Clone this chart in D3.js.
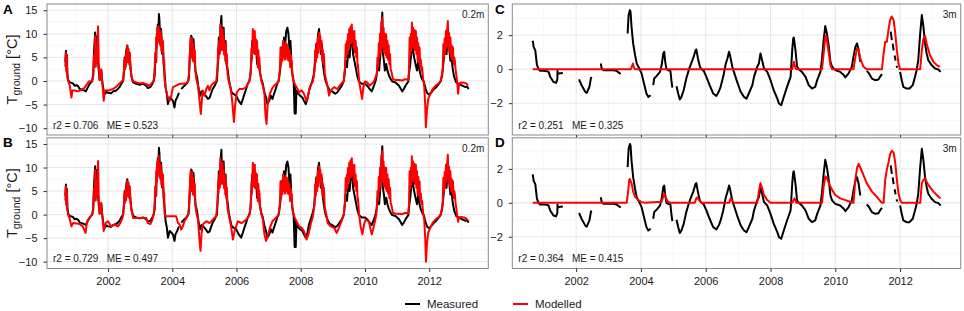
<!DOCTYPE html>
<html><head><meta charset="utf-8">
<script src="https://cdn.jsdelivr.net/npm/d3@7"></script>
<style>
body{margin:0;background:#fff;}
svg{font-family:"Liberation Sans",Arial,Helvetica,sans-serif;display:block;}
</style>
</head><body>
<svg id="chart" width="964" height="311"></svg>
<script>
// ---------------- data ----------------
const xTickYears = [2002, 2004, 2006, 2008, 2010, 2012];
const xMinorYears = [2001, 2003, 2005, 2007, 2009, 2011, 2013];
const yTicks02 = [-10, -5, 0, 5, 10, 15];
const yMinor02 = [-7.5, -2.5, 2.5, 7.5, 12.5];
const yTicks3 = [-2, 0, 2];
const yMinor3 = [-3, -1, 1, 3];
const panelLetters = ["A", "B", "C", "D"];
const depthLabels = ["0.2m", "0.2m", "3m", "3m"];
const statsLabels = ["r2 = 0.706   ME = 0.523", "r2 = 0.729   ME = 0.497", "r2 = 0.251   ME = 0.325", "r2 = 0.364   ME = 0.415"];
const legendLabels = ["Measured", "Modelled"];

// measured ground temperature at 0.2 m  [decimal year, °C]  (null = gap)
const measured02 = [
[2000.67,4.0],[2000.69,6.4],[2000.705,2.5],[2000.72,5.5],[2000.735,1.5],[2000.76,0.2],[2000.81,-0.3],[2000.91,-0.5],[2000.96,-1.0],[2001.02,-0.9],[2001.07,-1.1],[2001.12,-1.7],[2001.22,-1.9],[2001.31,-2.2],[2001.38,-1.2],[2001.43,-0.6],[2001.51,0],
[2001.54,1.5],[2001.57,7.0],[2001.6,10.3],[2001.62,4.3],[2001.64,5.0],[2001.66,9.5],[2001.69,4],[2001.72,1.5],[2001.74,0.2],[2001.79,2.2],[2001.82,-0.1],[2001.86,-2.0],[2001.9,-2.8],[2001.95,-2.3],[2002.0,-2.5],[2002.1,-2.6],[2002.16,-2.2],[2002.26,-2.0],[2002.36,-1.3],[2002.42,-0.5],[2002.47,0],
[2002.5,2.5],[2002.52,5.0],[2002.55,3.0],[2002.57,6.5],[2002.6,7.5],[2002.63,4.0],[2002.67,6.0],[2002.7,3.0],[2002.73,1.0],[2002.76,0.3],[2002.78,-0.3],[2002.88,-0.6],[2002.98,-0.8],[2003.09,-0.6],[2003.19,-1.0],[2003.24,-1.5],[2003.32,-1.3],[2003.38,-0.6],[2003.42,0],
[2003.45,1],[2003.48,5.7],[2003.5,4],[2003.52,10],[2003.54,8],[2003.55,12],[2003.57,10],[2003.585,14.2],[2003.6,13],[2003.62,9],[2003.63,7.8],[2003.65,11],[2003.66,10],[2003.68,6],[2003.69,5.7],[2003.71,7],[2003.74,2.9],[2003.77,0.8],[2003.79,-1.3],[2003.83,-2.7],[2003.865,-4.9],[2003.92,-3.5],[2003.97,-3.8],[2004.02,-4.2],[2004.07,-5.6],[2004.1,-4.2],[2004.15,-3.5],[2004.21,-2.5],[2004.23,null],[2004.28,-1.7],[2004.35,-1.2],[2004.44,-0.6],[2004.5,0],
[2004.52,1],[2004.56,7.1],[2004.59,9.6],[2004.61,9.2],[2004.63,6],[2004.64,5.0],[2004.66,8.9],[2004.69,5.7],[2004.72,2.2],[2004.77,0.8],[2004.8,-0.6],[2004.83,-2.0],[2004.87,-3.1],[2004.91,-2.2],[2004.95,-2.4],[2005.04,-3.1],[2005.11,-3.8],[2005.16,-3.6],[2005.21,-2.6],[2005.26,-1.7],[2005.32,-1.0],[2005.37,-0.3],
[2005.39,0],[2005.42,3.6],[2005.45,9.2],[2005.47,6],[2005.48,7.1],[2005.5,11],[2005.51,12],[2005.53,13.8],[2005.55,8.5],[2005.565,9.2],[2005.58,10.5],[2005.6,11.3],[2005.62,6],[2005.63,5.7],[2005.65,8.5],[2005.66,8.5],[2005.68,4],[2005.69,3.6],[2005.73,2.2],[2005.76,0.4],[2005.8,-1.0],[2005.845,-2.4],[2005.89,-2.7],[2005.99,-3.1],[2006.07,-4.2],[2006.145,-4.9],[2006.2,-3.8],[2006.25,-2.7],[2006.3,-1.7],[2006.35,-0.6],[2006.4,0],
[2006.43,1],[2006.46,4.3],[2006.49,8.5],[2006.51,7],[2006.52,6.4],[2006.55,9.6],[2006.58,5.7],[2006.61,7.8],[2006.64,3.6],[2006.67,5.7],[2006.72,2.2],[2006.77,0.4],[2006.82,-0.6],[2006.87,-2.4],[2006.92,-3.5],[2006.96,-4.9],[2007.02,-4.2],[2007.07,-3.1],[2007.12,-3.8],[2007.17,-2.7],[2007.22,-1.7],[2007.27,-0.6],[2007.31,0],
[2007.33,0.8],[2007.38,3.6],[2007.41,7.1],[2007.45,5.7],[2007.48,9.2],[2007.51,7.8],[2007.53,9],[2007.55,10.6],[2007.585,11.3],[2007.62,9.9],[2007.65,6.4],[2007.68,8.5],[2007.71,3.6],[2007.74,1.5],[2007.78,-0.1],[2007.81,-6.9],[2007.82,-1.3],[2007.845,-6.9],[2007.865,-2.0],[2007.92,-2.7],[2007.98,-3.1],[2008.05,-3.5],[2008.1,-4.2],[2008.155,-4.9],[2008.21,-3.8],[2008.26,-2.0],[2008.31,-1.0],[2008.36,0],
[2008.41,1.5],[2008.45,4.3],[2008.48,7.8],[2008.51,5.7],[2008.54,9.9],[2008.57,11],[2008.6,8.5],[2008.63,5.7],[2008.66,7.8],[2008.69,3.6],[2008.74,1.1],[2008.78,-0.1],[2008.83,-1.0],[2008.9,-2.0],[2008.98,-2.2],[2009.07,-2.7],[2009.14,-2.4],[2009.21,-1.7],[2009.28,-1.0],[2009.34,0],
[2009.36,1.1],[2009.4,4.3],[2009.44,2.9],[2009.48,6.4],[2009.52,5.0],[2009.565,8.5],[2009.6,9.6],[2009.63,5.7],[2009.67,4.3],[2009.71,2.9],[2009.76,1.1],[2009.81,-0.1],[2009.9,-0.6],[2010.0,-0.6],[2010.07,-1.0],[2010.145,-1.7],[2010.21,-2.2],[2010.28,-1.0],[2010.33,0],
[2010.36,1.1],[2010.4,3.6],[2010.44,2.2],[2010.48,5.7],[2010.51,10.6],[2010.54,14.5],[2010.56,5.7],[2010.59,4.3],[2010.62,2.2],[2010.66,3.6],[2010.7,2.2],[2010.75,1.1],[2010.8,0.4],[2010.85,-0.1],[2010.95,-0.3],[2011.06,-1.0],[2011.16,-2.2],[2011.21,-1.7],[2011.26,-1.0],[2011.35,-0.1],
[2011.37,1.5],[2011.41,3.6],[2011.44,5.7],[2011.47,7.8],[2011.5,6.4],[2011.53,5.0],[2011.575,3.6],[2011.62,2.2],[2011.66,4.3],[2011.7,2.2],[2011.74,1.1],[2011.78,0.4],[2011.83,-0.1],[2011.89,-1.7],[2011.94,-2.6],[2012.0,-2.9],[2012.07,-2.4],[2012.15,-1.7],[2012.22,-1.3],[2012.3,-0.6],[2012.36,0],
[2012.4,1.1],[2012.45,4.3],[2012.48,6.4],[2012.51,7.8],[2012.54,5.7],[2012.57,9.2],[2012.6,10.3],[2012.63,6.4],[2012.66,4.3],[2012.69,5.0],[2012.74,2.2],[2012.78,0.8],[2012.84,-0.3],[2012.92,-0.6],[2013.03,-1.0],[2013.13,-1.3],[2013.18,-1.2],[2013.23,-1.7]
];

// modelled ground temperature at 0.2 m, panel A
const modelledA = [
[2000.67,3.0],[2000.685,6.0],[2000.7,2.0],[2000.715,5.5],[2000.73,1.0],[2000.76,-0.1],[2000.81,-1.0],[2000.86,-3.5],[2000.89,-2.0],[2000.96,-2.0],[2001.07,-2.2],[2001.17,-1.9],[2001.26,-1.5],[2001.33,-0.8],[2001.4,-0.1],[2001.5,0],
[2001.54,1.0],[2001.56,5.5],[2001.58,3],[2001.6,9.5],[2001.62,3.0],[2001.64,7],[2001.66,4],[2001.69,11.6],[2001.71,4.0],[2001.74,0.2],[2001.79,2.5],[2001.82,-0.1],[2001.865,-4.2],[2001.9,-2.0],[2001.95,-2.0],[2002.05,-1.9],[2002.16,-1.7],[2002.26,-1.2],[2002.36,-0.5],[2002.42,-0.1],[2002.47,0.1],
[2002.49,1.5],[2002.51,4.5],[2002.53,2.5],[2002.55,5.5],[2002.57,3.5],[2002.6,7.5],[2002.62,4],[2002.64,6.8],[2002.66,3.5],[2002.68,5.5],[2002.7,2.5],[2002.73,1.0],[2002.76,0],[2002.88,-0.3],[2002.98,-0.5],[2003.09,-0.4],[2003.19,-0.7],[2003.3,-1.0],[2003.38,-0.3],[2003.42,0],
[2003.45,2.2],[2003.47,6],[2003.49,4],[2003.5,9.2],[2003.52,7],[2003.53,11.3],[2003.55,8.5],[2003.575,11.6],[2003.59,8.5],[2003.61,10.8],[2003.63,7.5],[2003.64,10.6],[2003.66,6.4],[2003.68,9],[2003.7,6],[2003.71,8.5],[2003.73,3.6],[2003.75,4.5],[2003.76,0.4],[2003.81,-2.0],[2003.865,-3.5],[2003.92,-4.2],[2003.97,-3.1],[2004.02,-1.3],[2004.12,-1.0],[2004.23,-0.6],[2004.33,-0.6],[2004.44,-0.5],[2004.49,-0.1],
[2004.52,1.5],[2004.55,6],[2004.57,9.2],[2004.59,5],[2004.6,8],[2004.62,8.9],[2004.64,4.3],[2004.66,7.8],[2004.68,4],[2004.7,6.5],[2004.72,2.2],[2004.75,0.4],[2004.8,-1.0],[2004.85,-4.2],[2004.89,-7.0],[2004.92,-4.2],[2004.95,-2.0],[2005.0,-3.1],[2005.06,-1.7],[2005.11,-1.0],[2005.16,-2.0],[2005.21,-1.0],[2005.26,-0.6],[2005.32,-0.3],[2005.37,-0.1],
[2005.41,2.9],[2005.43,7],[2005.44,4.5],[2005.46,8.5],[2005.48,5.7],[2005.5,12],[2005.52,8],[2005.53,9.6],[2005.55,6.5],[2005.565,11.0],[2005.58,7],[2005.6,9.5],[2005.62,5.5],[2005.63,8.5],[2005.65,4.3],[2005.67,7.5],[2005.69,3.5],[2005.7,5.7],[2005.72,1.5],[2005.76,-0.1],[2005.81,-1.3],[2005.865,-4.2],[2005.92,-8.7],[2005.96,-4.9],[2006.01,-2.4],[2006.09,-1.7],[2006.2,-1.7],[2006.3,-1.3],[2006.35,-0.6],[2006.4,-0.1],
[2006.45,2.2],[2006.47,7],[2006.48,4.5],[2006.5,9],[2006.51,11.0],[2006.53,6],[2006.54,9.1],[2006.56,7],[2006.57,10.6],[2006.59,5.7],[2006.61,8.8],[2006.63,5.5],[2006.64,8.5],[2006.66,2.9],[2006.68,6.5],[2006.7,3],[2006.71,5.0],[2006.74,1.5],[2006.78,-0.1],[2006.82,-1.0],[2006.87,-2.7],[2006.9,-7.0],[2006.935,-9.1],[2006.97,-4.9],[2007.04,-2.7],[2007.1,-1.7],[2007.17,-1.0],[2007.24,-0.6],[2007.31,-0.1],
[2007.35,2.2],[2007.37,7.1],[2007.39,3.5],[2007.41,6.5],[2007.43,4.3],[2007.45,8.5],[2007.47,5],[2007.49,7.5],[2007.51,4.5],[2007.53,8.2],[2007.55,5.0],[2007.57,7.8],[2007.59,4.5],[2007.61,7],[2007.63,4.3],[2007.65,6.4],[2007.67,2.9],[2007.69,5.5],[2007.71,3],[2007.72,4.3],[2007.74,1.1],[2007.78,-0.1],[2007.845,-1.0],[2007.9,-1.7],[2007.95,-2.4],[2008.03,-2.0],[2008.1,-2.7],[2008.18,-4.2],[2008.23,-3.1],[2008.28,-1.3],[2008.34,-0.5],[2008.38,-0.1],
[2008.43,2.2],[2008.45,6.4],[2008.47,4],[2008.49,8],[2008.51,5.0],[2008.53,9.2],[2008.55,6],[2008.57,10.3],[2008.59,7.1],[2008.61,9.5],[2008.63,6.4],[2008.65,8.5],[2008.67,4.3],[2008.69,6.5],[2008.71,3.5],[2008.72,5.7],[2008.75,1.5],[2008.8,-0.1],[2008.84,-1.3],[2008.88,-3.1],[2008.93,-2.0],[2009.04,-1.3],[2009.14,-1.7],[2009.21,-1.0],[2009.3,-0.3],[2009.34,-0.1],
[2009.38,2.9],[2009.4,7.8],[2009.42,5],[2009.44,8.5],[2009.46,5.7],[2009.47,9.9],[2009.49,7],[2009.51,11],[2009.53,7.8],[2009.55,11.5],[2009.57,8],[2009.59,12.0],[2009.61,8.5],[2009.63,10.5],[2009.65,7],[2009.67,10.6],[2009.69,6],[2009.71,8.5],[2009.73,5],[2009.75,7.1],[2009.77,3],[2009.78,3.5],[2009.82,-0.1],[2009.865,-2.0],[2009.91,-3.8],[2009.95,-1.3],[2010.0,-0.1],[2010.07,-0.3],[2010.145,-1.0],[2010.21,-0.6],[2010.28,-0.1],
[2010.37,1.5],[2010.39,5],[2010.41,3],[2010.43,8],[2010.45,5],[2010.47,10],[2010.49,6],[2010.51,12.5],[2010.53,8],[2010.54,13.5],[2010.56,7],[2010.58,11.3],[2010.6,6],[2010.62,10],[2010.64,5.5],[2010.66,9.9],[2010.68,5],[2010.7,8.5],[2010.72,4.5],[2010.74,7.5],[2010.76,3.5],[2010.78,5.7],[2010.8,2.5],[2010.83,1.8],[2010.87,0.4],[2010.95,0.2],[2011.06,0.2],[2011.16,0.1],[2011.26,0.4],[2011.35,0.2],
[2011.37,2.2],[2011.39,9.2],[2011.41,5.5],[2011.43,10],[2011.45,6.4],[2011.46,12.4],[2011.48,7.5],[2011.5,11.3],[2011.52,7.1],[2011.54,10.8],[2011.56,6.5],[2011.585,10.6],[2011.6,5.7],[2011.62,9.2],[2011.64,4.3],[2011.66,8],[2011.68,4],[2011.7,7.1],[2011.72,3],[2011.74,4.5],[2011.76,2.2],[2011.78,2.9],[2011.81,0.4],[2011.845,-1.0],[2011.875,-4.9],[2011.895,-9.8],[2011.93,-6.3],[2011.97,-3.8],[2012.04,-2.7],[2012.11,-1.7],[2012.2,-1.0],[2012.28,-0.6],[2012.35,-0.1],
[2012.42,2.2],[2012.44,7.8],[2012.46,5],[2012.48,9],[2012.5,5.7],[2012.52,10.6],[2012.54,7],[2012.56,11],[2012.58,12.7],[2012.6,7.5],[2012.62,10],[2012.64,6],[2012.66,9.2],[2012.68,5],[2012.7,7.5],[2012.72,4.5],[2012.74,7.1],[2012.76,3.5],[2012.78,5],[2012.8,4.3],[2012.82,2.5],[2012.84,1.5],[2012.87,-0.1],[2012.9,-2.7],[2012.93,-0.6],[2013.0,-0.3],[2013.08,-0.35],[2013.15,-0.5],[2013.21,-1.0]
];

// modelled ground temperature at 0.2 m, panel B
const modelledB = [
[2000.67,3.0],[2000.685,6.0],[2000.7,2.0],[2000.715,5.5],[2000.73,1.0],[2000.76,-0.1],[2000.81,-1.0],[2000.86,-2.5],[2000.91,-1.8],[2001.02,-1.9],[2001.12,-2.0],[2001.22,-2.6],[2001.3,-3.9],[2001.35,-1.4],[2001.43,-0.7],[2001.5,0],
[2001.54,1.0],[2001.56,5.5],[2001.58,3],[2001.6,9.5],[2001.62,3.0],[2001.64,7],[2001.66,4],[2001.69,11.4],[2001.71,4.0],[2001.74,0.2],[2001.79,2.5],[2001.82,-0.1],[2001.865,-3.5],[2001.93,-1.8],[2002.0,-1.4],[2002.1,-2.5],[2002.2,-2.1],[2002.31,-2.5],[2002.38,-1.8],[2002.45,-0.7],[2002.47,0],
[2002.49,1.5],[2002.51,4.5],[2002.53,2.5],[2002.55,5.5],[2002.57,3.5],[2002.6,7.2],[2002.62,4],[2002.64,6.8],[2002.66,3.5],[2002.68,5.5],[2002.7,2.5],[2002.73,1.0],[2002.76,0],[2002.78,-0.7],[2002.88,-0.7],[2003.0,-0.7],[2003.19,-0.7],[2003.24,-1.8],[2003.32,-2.0],[2003.38,-1.1],[2003.42,0],
[2003.45,2.2],[2003.47,6],[2003.49,4],[2003.5,9.2],[2003.52,7],[2003.53,11.3],[2003.55,8.5],[2003.575,12.5],[2003.59,9],[2003.61,11],[2003.63,7.5],[2003.64,10.6],[2003.66,6.4],[2003.68,9],[2003.7,6],[2003.71,8.5],[2003.73,3.6],[2003.75,4.5],[2003.76,0.2],[2003.8,-0.35],[2003.9,-0.35],[2004.0,-0.35],[2004.12,-0.35],[2004.18,-1.8],[2004.23,-2.1],[2004.28,-3.2],[2004.33,-2.5],[2004.38,-1.4],[2004.44,-0.7],[2004.49,-0.1],
[2004.52,1.5],[2004.55,6],[2004.57,9.2],[2004.59,5],[2004.6,8],[2004.62,8.9],[2004.64,4.3],[2004.66,7.8],[2004.68,4],[2004.7,6.5],[2004.72,2.2],[2004.75,0.4],[2004.8,-1.0],[2004.85,-5.6],[2004.88,-7.7],[2004.91,-4.2],[2004.95,-2.1],[2005.06,-1.4],[2005.16,-1.8],[2005.26,-1.1],[2005.37,-0.3],
[2005.41,2.9],[2005.43,7],[2005.44,4.5],[2005.46,8.5],[2005.48,5.7],[2005.5,12],[2005.52,8],[2005.53,9.6],[2005.55,6.5],[2005.565,11.0],[2005.58,7],[2005.6,9.5],[2005.62,5.5],[2005.63,8.5],[2005.65,4.3],[2005.67,7.5],[2005.69,3.5],[2005.7,5.7],[2005.72,1.5],[2005.76,-0.1],[2005.83,-2.5],[2005.89,-5.3],[2005.94,-3.5],[2006.04,-1.4],[2006.15,-1.8],[2006.25,-1.4],[2006.35,-0.7],[2006.4,-0.1],
[2006.45,2.2],[2006.47,7],[2006.48,4.5],[2006.5,9],[2006.51,11.0],[2006.53,6],[2006.54,9.1],[2006.56,7],[2006.57,10.6],[2006.59,5.7],[2006.61,8.8],[2006.63,5.5],[2006.64,8.5],[2006.66,2.9],[2006.68,6.5],[2006.7,3],[2006.71,5.0],[2006.74,1.5],[2006.78,-0.1],[2006.82,-1.0],[2006.87,-4.2],[2006.92,-5.6],[2006.96,-4.9],[2007.04,-2.8],[2007.12,-1.4],[2007.22,-0.7],[2007.31,-0.1],
[2007.35,2.2],[2007.37,7.1],[2007.39,3.5],[2007.41,6.5],[2007.43,4.3],[2007.45,8.5],[2007.47,5],[2007.49,7.5],[2007.51,4.5],[2007.53,8.2],[2007.55,5.0],[2007.57,7.8],[2007.59,4.5],[2007.61,7],[2007.63,4.3],[2007.65,6.4],[2007.67,2.9],[2007.69,5.5],[2007.71,3],[2007.72,4.3],[2007.74,1.1],[2007.78,-0.1],[2007.845,-1.1],[2007.95,-2.5],[2008.03,-2.8],[2008.1,-3.5],[2008.18,-5.3],[2008.24,-4.2],[2008.31,-2.1],[2008.38,-0.35],
[2008.43,2.2],[2008.45,6.4],[2008.47,4],[2008.49,8],[2008.51,5.0],[2008.53,9.2],[2008.55,6],[2008.57,10.3],[2008.59,7.1],[2008.61,9.5],[2008.63,6.4],[2008.65,8.5],[2008.67,4.3],[2008.69,6.5],[2008.71,3.5],[2008.72,5.7],[2008.75,1.5],[2008.8,-0.1],[2008.84,-1.8],[2008.93,-2.5],[2009.04,-2.8],[2009.12,-3.9],[2009.19,-2.8],[2009.27,-1.4],[2009.34,-0.1],
[2009.38,2.9],[2009.4,7.8],[2009.42,5],[2009.44,8.5],[2009.46,5.7],[2009.47,9.9],[2009.49,7],[2009.51,11],[2009.53,7.8],[2009.55,11.5],[2009.57,8],[2009.59,12.0],[2009.61,8.5],[2009.63,10.5],[2009.65,7],[2009.67,10.6],[2009.69,6],[2009.71,8.5],[2009.73,5],[2009.75,7.1],[2009.77,3],[2009.78,3.5],[2009.82,-0.1],[2009.865,-2.5],[2009.92,-4.2],[2009.97,-2.1],[2010.02,-1.1],[2010.12,-1.4],[2010.21,-4.2],[2010.25,-3.2],[2010.31,-1.4],[2010.35,-0.1],
[2010.37,1.5],[2010.39,5],[2010.41,3],[2010.43,8],[2010.45,5],[2010.47,10],[2010.49,6],[2010.51,12.5],[2010.53,8],[2010.54,13.5],[2010.56,7],[2010.58,11.3],[2010.6,6],[2010.62,10],[2010.64,5.5],[2010.66,9.9],[2010.68,5],[2010.7,8.5],[2010.72,4.5],[2010.74,7.5],[2010.76,3.5],[2010.78,5.7],[2010.8,2.5],[2010.83,1.8],[2010.87,0.4],[2010.95,0.2],[2011.06,0.2],[2011.16,0.1],[2011.26,0.4],[2011.35,0.2],
[2011.37,2.2],[2011.39,9.2],[2011.41,5.5],[2011.43,10],[2011.45,6.4],[2011.46,12.4],[2011.48,7.5],[2011.5,11.3],[2011.52,7.1],[2011.54,10.8],[2011.56,6.5],[2011.585,10.6],[2011.6,5.7],[2011.62,9.2],[2011.64,4.3],[2011.66,8],[2011.68,4],[2011.7,7.1],[2011.72,3],[2011.74,4.5],[2011.76,2.2],[2011.78,2.9],[2011.81,0.4],[2011.845,-1.0],[2011.875,-4.9],[2011.9,-10.0],[2011.93,-6.3],[2011.97,-3.8],[2012.04,-2.7],[2012.11,-1.7],[2012.2,-1.0],[2012.28,-0.6],[2012.35,-0.1],
[2012.42,2.2],[2012.44,7.8],[2012.46,5],[2012.48,9],[2012.5,5.7],[2012.52,10.6],[2012.54,7],[2012.56,11],[2012.58,12.7],[2012.6,7.5],[2012.62,10],[2012.64,6],[2012.66,9.2],[2012.68,5],[2012.7,7.5],[2012.72,4.5],[2012.74,7.1],[2012.76,3.5],[2012.78,5],[2012.8,4.3],[2012.82,2.5],[2012.84,1.5],[2012.87,-0.1],[2012.9,-1.5],[2012.93,-0.6],[2013.0,-0.5],[2013.08,-0.6],[2013.15,-0.8],[2013.21,-1.2]
];

// measured ground temperature at 3 m (null = gap)
const measured3 = [
[2000.66,1.67],[2000.69,1.3],[2000.71,1.22],[2000.74,1.1],[2000.79,0.25],[2000.84,0],[2000.89,-0.1],[2001.0,-0.1],[2001.1,-0.12],[2001.15,-0.16],[2001.2,-0.45],[2001.3,-0.75],[2001.38,-0.8],[2001.42,-0.6],[2001.425,-0.1],[2001.43,-0.3],[2001.46,-0.25],[2001.59,-0.22],[2001.6,null],
[2002.09,-0.6],[2002.17,-0.95],[2002.28,-1.33],[2002.33,-1.4],[2002.41,-1.04],[2002.46,-0.5],[2002.48,-0.55],[2002.5,null],
[2002.76,0.33],[2002.79,0.04],[2002.84,-0.06],[2003.0,-0.06],[2003.15,-0.06],[2003.25,-0.1],[2003.35,-0.25],[2003.37,-0.2],[2003.4,null],
[2003.59,2.1],[2003.62,3.18],[2003.66,3.47],[2003.68,3.37],[2003.71,2.49],[2003.76,1.51],[2003.82,0.82],[2003.87,0.33],[2003.95,0.04],[2004.02,-0.25],[2004.07,-0.65],[2004.12,-1.04],[2004.17,-1.43],[2004.23,-1.63],[2004.3,-1.53],[2004.32,null],
[2004.38,-0.94],[2004.41,-0.55],[2004.48,-0.41],[2004.59,-0.16],[2004.64,0.24],[2004.69,0.92],[2004.72,1.02],[2004.75,0.43],[2004.79,0],[2004.84,-0.06],[2004.91,-0.1],[2004.94,-0.65],[2004.97,-1.08],[2004.99,null],
[2005.1,-1.0],[2005.15,-1.43],[2005.2,-1.78],[2005.25,-1.63],[2005.32,-1.24],[2005.4,-0.55],[2005.46,-0.16],[2005.51,0.14],[2005.61,0.63],[2005.69,1.12],[2005.71,1.16],[2005.76,0.63],[2005.82,0.14],[2005.87,0],[2005.94,-0.1],[2006.02,-0.45],[2006.12,-0.94],[2006.23,-1.43],[2006.33,-1.57],[2006.41,-1.3],
[2006.46,-1.04],[2006.54,-0.45],[2006.59,0.04],[2006.62,0.33],[2006.67,0.63],[2006.72,1.02],[2006.75,0.82],[2006.82,0.14],[2006.87,-0.16],[2006.97,-0.75],[2007.08,-1.33],[2007.18,-1.63],[2007.26,-1.73],[2007.33,-1.43],[2007.44,-0.94],[2007.49,-0.45],[2007.54,-0.16],[2007.59,0.14],[2007.64,0.33],[2007.69,0.92],[2007.74,0.53],[2007.8,0.04],[2007.9,-0.16],[2008.0,-0.65],[2008.1,-1.24],[2008.21,-1.73],[2008.26,-2.02],[2008.33,-2.12],[2008.41,-1.63],[2008.51,-1.04],[2008.62,-0.45],[2008.67,1.12],[2008.7,1.8],[2008.72,1.86],[2008.77,1.12],[2008.82,0.14],[2008.87,0],[2008.97,-0.16],[2009.08,-0.45],[2009.18,-0.94],[2009.28,-1.14],[2009.38,-1.04],[2009.44,-0.65],[2009.54,-0.16],[2009.59,0.63],[2009.64,1.71],[2009.69,2.53],[2009.74,2.1],[2009.8,1.31],[2009.85,0.43],[2009.9,0.14],[2010.0,-0.06],[2010.15,-0.16],[2010.26,-0.35],[2010.31,-0.49],[2010.41,-0.25],[2010.51,0.14],[2010.56,0.73],[2010.62,1.31],[2010.67,1.51],[2010.72,1.12],[2010.77,0.43],[2010.8,null],
[2010.97,-0.1],[2011.03,-0.22],[2011.13,-0.55],[2011.23,-0.65],[2011.33,-0.61],[2011.38,-0.45],[2011.44,-0.29],[2011.46,null],
[2011.71,2.2],[2011.745,1.7],[2011.755,null],[2011.77,1.5],[2011.8,1.1],[2011.81,null],[2011.83,0.8],[2011.86,0.5],[2011.87,null],[2011.89,0.2],[2011.91,0.08],[2011.92,null],
[2011.95,0],[2011.96,0],[2011.97,null],
[2012.0,-0.16],[2012.05,-0.65],[2012.1,-1.04],[2012.2,-1.14],[2012.29,-1.14],[2012.39,-0.94],[2012.46,-0.45],[2012.51,-0.06],[2012.56,0.53],[2012.62,2.1],[2012.67,3.18],[2012.72,2.49],[2012.77,1.51],[2012.82,0.92],[2012.87,0.53],[2012.97,0.24],[2013.08,0.04],[2013.18,-0.02],[2013.25,-0.16]
];

// modelled ground temperature at 3 m, panel C
const modelledC = [
[2000.66,0],[2003.69,0],[2003.72,0.15],[2003.755,0.33],[2003.78,0.12],[2003.81,0],[2008.67,0],[2008.72,0.43],[2008.77,0.05],[2008.8,0],
[2009.59,0],[2009.64,0.92],[2009.69,1.9],[2009.72,1.95],[2009.8,0.92],[2009.85,0.24],[2009.9,0],
[2010.56,0],[2010.62,0.73],[2010.67,1.22],[2010.72,1.12],[2010.77,0.63],[2010.87,0.14],[2010.97,0],
[2011.44,0],[2011.49,0.92],[2011.54,1.61],[2011.59,1.61],[2011.64,2.29],[2011.69,2.88],[2011.74,3.1],[2011.8,2.88],[2011.85,2.1],[2011.9,1.12],[2011.95,0.33],[2012.0,0],
[2012.62,0],[2012.67,1.12],[2012.72,1.8],[2012.77,1.95],[2012.82,1.51],[2012.92,0.82],[2013.03,0.43],[2013.13,0.24],[2013.23,0.14]
];

// modelled ground temperature at 3 m, panel D
const modelledD = [
[2000.66,0],[2003.56,0],[2003.61,0.76],[2003.64,1.36],[2003.66,1.4],[2003.71,1.16],[2003.76,0.66],[2003.82,0.36],[2003.92,0.16],[2004.02,0.04],[2004.12,0],
[2004.64,0.06],[2004.69,0.36],[2004.72,0.56],[2004.76,0.36],[2004.81,0.12],[2004.89,0],
[2005.66,0],[2005.71,0.26],[2005.74,0.32],[2005.79,0.16],[2005.87,0],
[2006.72,0],[2006.77,0.26],[2006.82,0.12],[2006.87,0],
[2007.59,0],[2007.64,0.66],[2007.69,1.16],[2007.74,0.86],[2007.8,0.46],[2007.9,0.16],[2008.0,0],
[2008.67,0],[2008.74,0.26],[2008.8,0],
[2009.59,0],[2009.64,0.96],[2009.69,1.56],[2009.74,1.46],[2009.8,1.16],[2009.9,0.76],[2010.0,0.46],[2010.15,0.26],[2010.31,0.16],[2010.46,0.06],[2010.54,0],
[2010.56,0],[2010.62,1.36],[2010.67,2.06],[2010.72,2.3],[2010.82,1.86],[2010.97,1.16],[2011.13,0.66],[2011.28,0.36],[2011.38,0.12],[2011.44,0],
[2011.49,0],[2011.54,1.36],[2011.59,1.96],[2011.64,2.36],[2011.69,2.86],[2011.74,3.06],[2011.8,2.96],[2011.85,2.36],[2011.9,1.36],[2011.95,0.56],[2012.0,0.16],[2012.05,0],
[2012.62,0],[2012.67,1.16],[2012.72,1.36],[2012.77,1.42],[2012.87,1.06],[2013.03,0.66],[2013.18,0.36],[2013.25,0.26]
];

// ---------------- layout ----------------
const panels = [
  {x0:47,  x1:488.3, y0:4,     y1:135,   xd:[2000.10,2013.84], yd:[-11.45,16.32], yt:yTicks02, ym:yMinor02, meas:measured02, mod:modelledA, labels:false},
  {x0:47,  x1:488.3, y0:137.8, y1:268.5, xd:[2000.10,2013.84], yd:[-11.45,16.32], yt:yTicks02, ym:yMinor02, meas:measured02, mod:modelledB, labels:true},
  {x0:512.3, x1:960.7, y0:4,     y1:135,   xd:[2000.03,2013.87], yd:[-3.87,3.83], yt:yTicks3, ym:yMinor3, meas:measured3, mod:modelledC, labels:false},
  {x0:512.3, x1:960.7, y0:137.8, y1:268.5, xd:[2000.03,2013.87], yd:[-3.87,3.83], yt:yTicks3, ym:yMinor3, meas:measured3, mod:modelledD, labels:true}
];

const svg = d3.select("#chart");
const defs = svg.append("defs");
const textCol = "#1a1a1a";

panels.forEach((p, i) => {
  const x = d3.scaleLinear().domain(p.xd).range([p.x0, p.x1]);
  const y = d3.scaleLinear().domain(p.yd).range([p.y1, p.y0]);
  const g = svg.append("g");
  const w = p.x1 - p.x0, h = p.y1 - p.y0;

  g.append("rect").attr("x", p.x0).attr("y", p.y0).attr("width", w).attr("height", h).attr("fill", "#fff");

  // minor grid
  g.selectAll(".vmin").data(xMinorYears).join("line")
    .attr("x1", d => x(d)).attr("x2", d => x(d)).attr("y1", p.y0).attr("y2", p.y1)
    .attr("stroke", "#f2f2f2").attr("stroke-width", 0.6);
  g.selectAll(".hmin").data(p.ym).join("line")
    .attr("x1", p.x0).attr("x2", p.x1).attr("y1", d => y(d)).attr("y2", d => y(d))
    .attr("stroke", "#f2f2f2").attr("stroke-width", 0.6);
  // major grid
  g.selectAll(".vmaj").data(xTickYears).join("line")
    .attr("x1", d => x(d)).attr("x2", d => x(d)).attr("y1", p.y0).attr("y2", p.y1)
    .attr("stroke", "#e6e6e6").attr("stroke-width", 1);
  g.selectAll(".hmaj").data(p.yt).join("line")
    .attr("x1", p.x0).attr("x2", p.x1).attr("y1", d => y(d)).attr("y2", d => y(d))
    .attr("stroke", "#e6e6e6").attr("stroke-width", 1);

  // clip
  const cid = "clip" + i;
  defs.append("clipPath").attr("id", cid).append("rect")
    .attr("x", p.x0).attr("y", p.y0).attr("width", w).attr("height", h);

  const line = d3.line().defined(d => d[1] !== null).x(d => x(d[0])).y(d => y(d[1]));
  const lg = g.append("g").attr("clip-path", `url(#${cid})`);
  lg.append("path").datum(p.meas).attr("d", line).attr("fill", "none")
    .attr("stroke", "#000").attr("stroke-width", 2).attr("stroke-linejoin", "round");
  lg.append("path").datum(p.mod).attr("d", line).attr("fill", "none")
    .attr("stroke", "#ff0000").attr("stroke-width", 2).attr("stroke-linejoin", "round");

  // border
  g.append("rect").attr("x", p.x0).attr("y", p.y0).attr("width", w).attr("height", h)
    .attr("fill", "none").attr("stroke", "#8a8a8a").attr("stroke-width", 1);

  // y axis
  const ya = g.append("g").attr("transform", `translate(${p.x0},0)`)
    .call(d3.axisLeft(y).tickValues(p.yt).tickSize(3.5).tickPadding(6).tickFormat(d3.format("d")));
  ya.select(".domain").remove();
  ya.selectAll(".tick line").attr("stroke", "#333");
  ya.selectAll(".tick text").attr("fill", textCol).style("font-size", "11px").style("font-family", "'Liberation Sans',Arial,sans-serif");

  // x axis
  const xa = g.append("g").attr("transform", `translate(0,${p.y1})`)
    .call(d3.axisBottom(x).tickValues(xTickYears).tickSize(3.5).tickPadding(5.5).tickFormat(d3.format("d")));
  xa.select(".domain").remove();
  xa.selectAll(".tick line").attr("stroke", "#333");
  xa.selectAll(".tick text").attr("fill", textCol).style("font-size", "11px").style("font-family", "'Liberation Sans',Arial,sans-serif");
  if (!p.labels) xa.selectAll(".tick text").remove();

  // depth label
  g.append("text").attr("x", p.x1 - 4).attr("y", p.y0 + 14).attr("text-anchor", "end")
    .attr("fill", textCol).style("font-size", "10px").text(depthLabels[i]);
  // stats
  g.append("text").attr("x", p.x0 + 6).attr("y", p.y1 - 6.5)
    .attr("fill", textCol).style("font-size", "10px").style("white-space", "pre")
    .attr("xml:space", "preserve").text(statsLabels[i]);
  // panel letter
  g.append("text").attr("x", i < 2 ? 3 : 495).attr("y", p.y0 + 9.5)
    .attr("fill", "#000").style("font-size", "13.5px").style("font-weight", "bold").text(panelLetters[i]);

  // y axis title for 0.2m panels
  if (i < 2) {
    const cy = (p.y0 + p.y1) / 2;
    const t = g.append("text").attr("transform", `translate(16.5,${cy}) rotate(-90)`)
      .attr("text-anchor", "middle").attr("fill", textCol).style("font-size", "14.5px");
    t.append("tspan").text("T");
    t.append("tspan").attr("dy", 3).style("font-size", "10.5px").text("ground");
    t.append("tspan").attr("dy", -3).text(" [°C]");
  }
});

// legend
const legY = 304;
const legItems = [
  {x: 405, color: "#000", label: legendLabels[0]},
  {x: 513, color: "#ff0000", label: legendLabels[1]}
];
const leg = svg.append("g");
legItems.forEach(it => {
  leg.append("line").attr("x1", it.x).attr("x2", it.x + 15).attr("y1", legY).attr("y2", legY)
    .attr("stroke", it.color).attr("stroke-width", 2);
  leg.append("text").attr("x", it.x + 22).attr("y", legY + 4).attr("fill", textCol)
    .style("font-size", "11.5px").text(it.label);
});
</script>
</body></html>
